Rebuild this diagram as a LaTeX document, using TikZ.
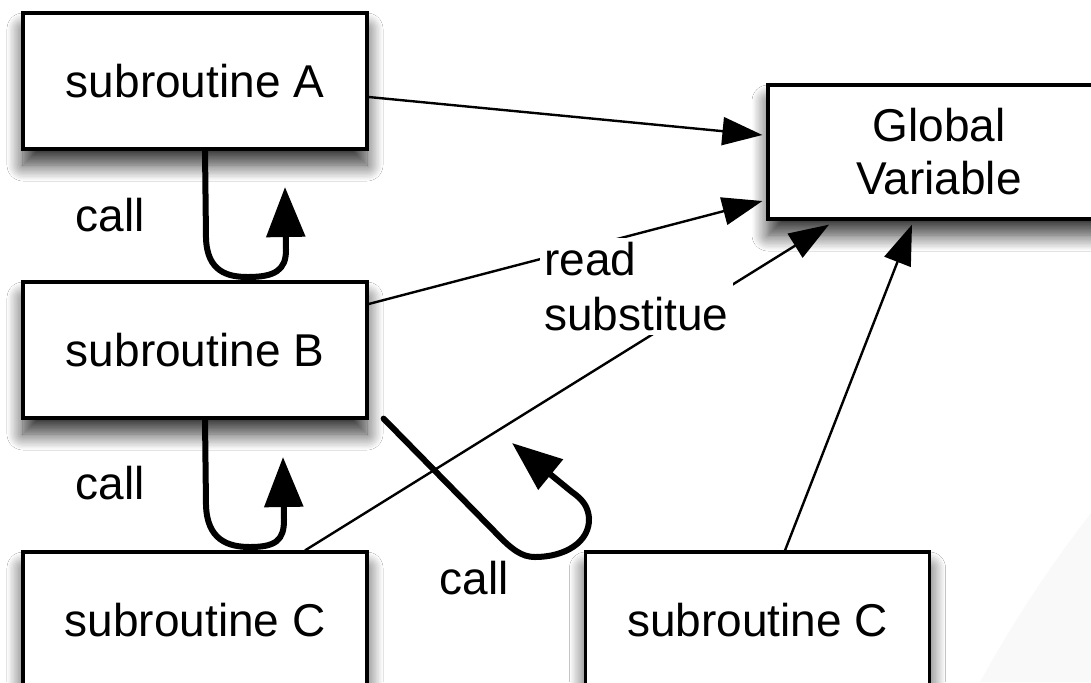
\documentclass[tikz,border=0pt]{standalone}
\usepackage{fontspec}
\setmainfont{Liberation Sans}
\usetikzlibrary{arrows.meta,shadows.blur}
\begin{document}
\begin{tikzpicture}[x=0.5pt,y=-0.5pt,
  box/.style={draw=black,line width=1.6pt,fill=white,minimum width=172pt,minimum height=68pt,
    inner sep=0pt,align=center,font=\fontsize{23}{26.5}\selectfont,
    blur shadow={shadow xshift=0pt,shadow yshift=-8pt,shadow blur radius=8pt,shadow blur steps=12,shadow opacity=80}},
  thin/.style={line width=1.2pt,-{Triangle[length=20pt,width=14pt]}},
  callarrow/.style={line width=3pt,line cap=round,-{Triangle[length=25pt,width=19pt]}},
  lbl/.style={font=\fontsize{23}{27.5}\selectfont,inner sep=0pt}]
\useasboundingbox (0,0) rectangle (1091,682);
\begin{scope}
\clip (0,0) rectangle (1091,682);
\fill[white] (0,0) rectangle (1091,682);
\fill[gray!5] (980,682) .. controls (1020,610) and (1055,560) .. (1091,513) -- (1091,682) -- cycle;
% boxes
\node[box] (A) at (195,81) {subroutine A};
\node[box] (B) at (195,350) {subroutine B};
\node[box] (C1) at (195,620) {subroutine C};
\node[box] (C2) at (757.5,620) {subroutine C};
\node[box,minimum width=171pt,minimum height=67pt] (G) at (939,152) {Global\\Variable};
% thin arrows to Global Variable
\draw[thin] ([yshift=-8pt]A.east) -- ([yshift=8.5pt,xshift=-2pt]G.west);
\draw[thin] ([yshift=23pt]B.east) -- ([yshift=-24.5pt,xshift=-2pt]G.west);
\draw[thin] ([xshift=55pt]C1.north) -- ([xshift=-55pt,yshift=-2pt]G.south);
\draw[thin] ([xshift=13.75pt]C2.north) -- ([xshift=-13.5pt,yshift=-2pt]G.south);
\node[lbl,fill=white,inner xsep=2pt,inner ysep=2pt,align=left,anchor=north west] (rs) at (540,238) {read\\substitue};
% call loops
\coordinate (tA) at (285,187);
\coordinate (tB) at (283,457);
\coordinate (tC) at (512,443);
\draw[callarrow] ([xshift=5pt]A.south) -- (206,238) .. controls (207,272) and (228,277) .. (248,277)
  .. controls (275,277) and (286,270) .. (286,250) -- (tA);
\draw[callarrow] ([xshift=5pt]B.south) -- (206,505) .. controls (207,540) and (228,547) .. (250,547)
  .. controls (276,547) and (284,540) .. (284,520) -- (tB);
\draw[callarrow] ([xshift=7.5pt,yshift=0.5pt]B.south east) -- (495,532) .. controls (512,550) and (522,557) .. (535,557)
  .. controls (565,557) and (590,542) .. (589,518) .. controls (588,506) and (582,499) .. (572,492) -- (tC);
% call labels
\node[lbl] (c1) at (110,215) {call};
\node[lbl] (c2) at (110,483) {call};
\node[lbl] (c3) at (474,578) {call};
\end{scope}
\end{tikzpicture}
\end{document}
